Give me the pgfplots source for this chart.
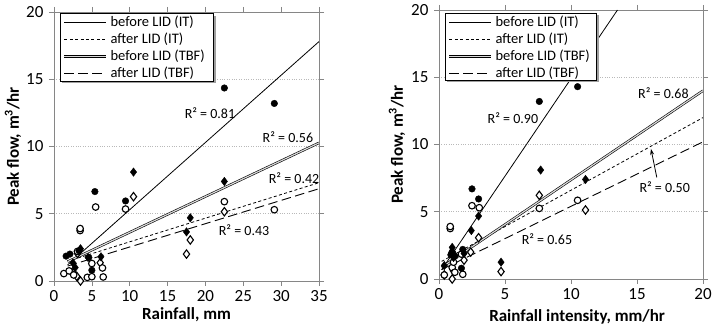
\documentclass[border=0pt]{standalone}
\usepackage{fontspec}
\setmainfont{Carlito}
\usepackage{pgfplots}
\pgfplotsset{compat=1.18}
\usetikzlibrary{arrows.meta}
\definecolor{axgray}{RGB}{134,134,134}
\tikzset{rsq/.style={font=\fontsize{14}{16}\selectfont, inner sep=0pt}}
\pgfplotsset{
  myax/.style={
    scale only axis, width=265pt, height=269pt,
    ymin=0, ymax=20, ytick={0,5,10,15,20},
    ymajorgrids, grid style={gray!55, dotted, line width=0.6pt},
    axis line style={axgray, line width=0.7pt},
    every tick/.style={axgray, line width=0.7pt},
    tick align=outside, major tick length=5pt,
    /pgf/number format/assume math mode=true,
    tick label style={font=\fontsize{17}{19}\selectfont},
    yticklabel style={xshift=-2pt},
    xticklabel style={yshift=-1pt},
    label style={font=\bfseries\fontsize{17}{19}\selectfont},
    legend cell align=left,
    legend style={anchor=north west, draw=none, fill=none,
      font=\fontsize{14.5}{16}\selectfont, inner xsep=3pt, inner ysep=2pt,
      row sep=2.5pt, column sep=3pt,
      nodes={inner sep=0pt, text height=11pt, text depth=3.5pt}},
    legend image code/.code={\draw[#1] (0pt,0pt) -- (42pt,0pt);},
  },
  bIT/.style={black, line width=0.8pt},
  aIT/.style={black, line width=0.8pt, dash pattern=on 3pt off 2.4pt},
  bTBF/.style={black, line width=0.6pt, double=gray!30, double distance=1.2pt},
  aTBF/.style={black, line width=0.9pt, dash pattern=on 9.5pt off 4.5pt},
  fc/.style={only marks, mark=*, mark size=3.3pt, mark options={fill=black, draw=black}},
  oc/.style={only marks, mark=*, mark size=3.3pt, mark options={fill=white, draw=black, line width=1.1pt}},
  fd/.style={only marks, mark=diamond*, mark size=4.2pt, mark options={fill=black, draw=black}},
  od/.style={only marks, mark=diamond*, mark size=4.2pt, mark options={fill=white, draw=black, line width=1.1pt}},
}
\newcommand\legframe[4]{%
  \fill[gray!75] ([xshift=2.5pt,yshift=-2.5pt]axis description cs:#1,#2) rectangle ([xshift=2.5pt,yshift=-2.5pt]axis description cs:#3,#4);
  \filldraw[fill=white, draw=black, line width=0.8pt] (axis description cs:#1,#2) rectangle (axis description cs:#3,#4);}
\begin{document}
\begin{tikzpicture}
\useasboundingbox (0pt,0pt) rectangle (716pt,332pt);
% ---------- Left panel ----------
\begin{axis}[myax, at={(54pt,51pt)}, anchor=south west,
  xmin=0, xmax=35, xtick={0,5,...,35},
  xlabel={Rainfall, mm}, ylabel={Peak flow, m\textsuperscript{3}/hr},
  xlabel style={at={(axis description cs:0.5,-0.126)}, anchor=center},
  ylabel style={at={(axis description cs:-0.155,0.5)}, anchor=center},
  legend style={at={(axis description cs:0.0226,0.996)}},
]
\addplot[bIT] coordinates {(1.8,1.2) (35,17.8)};
\addlegendentry{before LID (IT)}
\addplot[aIT] coordinates {(1.8,1.47) (35,7.31)};
\addlegendentry{after LID (IT)}
\addplot[bTBF] coordinates {(1.8,1.44) (35,10.27)};
\addlegendentry{before LID (TBF)}
\addplot[aTBF] coordinates {(1.8,1.11) (35,6.86)};
\addlegendentry{after LID (TBF)}
% after TBF
\addplot[od, forget plot] coordinates {(10.5,6.27) (22.5,5.15) (18.0,3.05) (17.5,2.0) (3.5,0.0) (3.0,0.35) (2.5,0.6) (6.1,1.36) (3.1,2.05)};
% after IT
\addplot[oc, forget plot] coordinates {(5.5,5.5) (9.45,5.35) (3.45,3.75) (3.45,3.9) (22.5,5.9) (29.1,5.3) (1.3,0.55) (2.0,0.75) (2.6,0.45) (4.4,0.27) (5.0,0.32) (6.5,0.3) (6.4,0.97) (5.0,1.3) (3.1,2.2)};
% before TBF
\addplot[fd, forget plot] coordinates {(10.5,8.1) (22.5,7.4) (18.0,4.7) (17.5,3.65) (3.5,2.4) (6.2,1.8) (2.8,1.0) (2.5,1.35) (4.5,1.75)};
% before IT
\addplot[fc, forget plot] coordinates {(22.5,14.35) (29.1,13.2) (5.4,6.65) (9.45,5.95) (1.6,1.85) (2.1,2.0) (3.3,2.25) (5.0,0.8) (4.6,1.75)};
\node[rsq] at (axis cs:20.6,12.5) {R² = 0.81};
\node[rsq] at (axis cs:30.9,10.7) {R² = 0.56};
\node[rsq] at (axis cs:31.7,7.66) {R² = 0.42};
\node[rsq] at (axis cs:25.1,3.79) {R² = 0.43};
\legframe{0.0226}{0.996}{0.6}{0.7435}
\end{axis}
% ---------- Right panel ----------
\begin{axis}[myax, at={(439pt,53pt)}, anchor=south west, width=264pt,
  xmin=0, xmax=20, xtick={0,5,...,20},
  xlabel={Rainfall intensity, mm/hr}, ylabel={Peak flow, m\textsuperscript{3}/hr},
  xlabel style={at={(axis description cs:0.523,-0.14)}, anchor=center},
  ylabel style={at={(axis description cs:-0.159,0.5)}, anchor=center},
  legend style={at={(axis description cs:0.0227,0.989)}},
]
\addplot[bIT] coordinates {(0.2,0.69) (13.52,20)};
\addlegendentry{before LID (IT)}
\addplot[aIT] coordinates {(0.2,1.31) (20,12.0)};
\addlegendentry{after LID (IT)}
\addplot[bTBF] coordinates {(0.2,0.87) (20,14.0)};
\addlegendentry{before LID (TBF)}
\addplot[aTBF] coordinates {(0.2,0.7) (20,10.2)};
\addlegendentry{after LID (TBF)}
% after TBF
\addplot[od, forget plot] coordinates {(7.6,6.22) (11.1,5.13) (3.0,3.07) (2.4,2.0) (4.7,0.55) (1.0,0.0) (1.9,1.4) (1.1,0.6) (1.0,2.0) (0.4,0.3)};
% after IT
\addplot[oc, forget plot] coordinates {(2.5,5.45) (3.05,5.3) (0.85,3.75) (0.85,3.9) (7.6,5.25) (10.5,5.85) (0.4,0.3) (1.8,0.35) (1.0,0.85) (1.1,1.25) (1.2,0.5) (1.7,1.85)};
% before TBF
\addplot[fd, forget plot] coordinates {(7.7,8.1) (11.1,7.4) (3.0,4.68) (2.45,3.6) (4.7,1.25) (1.0,2.35) (1.1,1.6) (1.9,1.9) (0.4,1.0)};
% before IT
\addplot[fc, forget plot] coordinates {(10.5,14.3) (7.6,13.2) (2.5,6.7) (3.0,5.95) (1.8,2.2) (1.7,0.8) (0.9,1.8) (1.0,2.0) (1.2,1.7)};
\node[rsq] at (axis cs:5.6,11.97) {R² = 0.90};
\node[rsq] at (axis cs:17.0,13.83) {R² = 0.68};
\node[rsq] at (axis cs:17.1,6.84) {R² = 0.50};
\node[rsq] at (axis cs:8.18,2.97) {R² = 0.65};
\draw[-{Stealth[length=6pt,width=4pt]}, line width=0.8pt] (axis cs:16.5,7.55) -- (axis cs:16.06,9.67);
\legframe{0.0227}{0.989}{0.598}{0.74}
\end{axis}
\end{tikzpicture}
\end{document}
